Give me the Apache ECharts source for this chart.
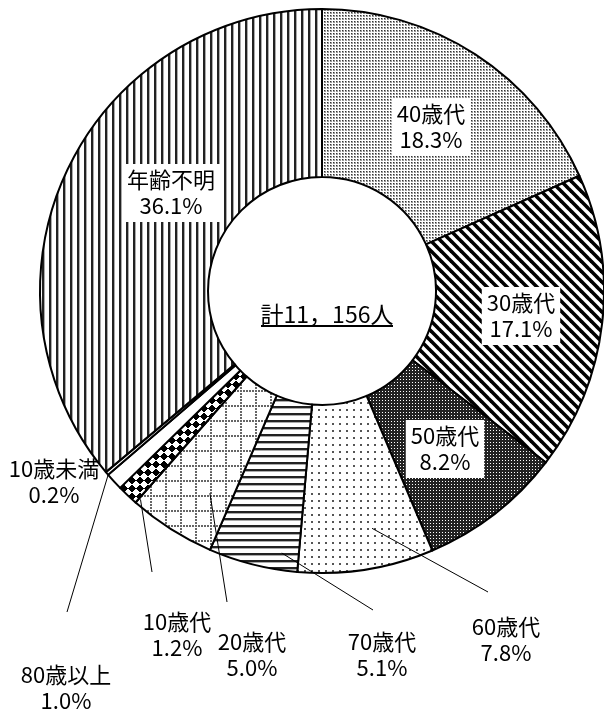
<!DOCTYPE html>
<html>
<head>
<meta charset="utf-8">
<script src="https://cdn.jsdelivr.net/npm/echarts@6/dist/echarts.min.js"></script>
<style>
  html, body { margin: 0; background: #fff; }
  #chart { width: 604px; height: 711px; }
</style>
</head>
<body>
<div id="chart"></div>
<script>
// 年代別の割合（時計回り、12時から）
const categories = ['40歳代', '30歳代', '50歳代', '60歳代', '70歳代', '20歳代', '10歳代', '80歳以上', '10歳未満', '年齢不明'];
const shares = [18.3, 17.1, 8.2, 7.8, 5.1, 5.0, 1.2, 1.0, 0.2, 36.1];
const totalText = '計11，156人';

const cx = 322, cy = 291, rIn = 114, rOut = 282;
const font = '"Noto Sans CJK JP", "Noto Sans CJK SC", sans-serif';

// hatch patterns (monochrome like the original)
function tile(w, h, draw) {
  const c = document.createElement('canvas');
  c.width = w; c.height = h;
  const ctx = c.getContext('2d');
  ctx.fillStyle = '#fff';
  ctx.fillRect(0, 0, w, h);
  draw(ctx, w, h);
  return { image: c, repeat: 'repeat' };
}
const patterns = {
  '40歳代': tile(3, 3, ctx => {
    ctx.fillStyle = '#999'; ctx.fillRect(0, 0, 2, 2);
    ctx.fillStyle = '#333'; ctx.fillRect(0, 0, 1, 1);
  }),
  '30歳代': tile(10, 10, ctx => {
    ctx.strokeStyle = '#000'; ctx.lineWidth = 3.6;
    [-10, 0, 10].forEach(o => {
      ctx.beginPath(); ctx.moveTo(o - 2, -2); ctx.lineTo(o + 12, 12); ctx.stroke();
    });
  }),
  '50歳代': tile(3, 3, ctx => {
    ctx.fillStyle = '#222'; ctx.fillRect(0, 0, 3, 3);
    ctx.fillStyle = '#fff'; ctx.fillRect(1, 1, 1, 1);
  }),
  '60歳代': tile(7, 7, ctx => {
    ctx.fillStyle = '#555'; ctx.fillRect(3, 3, 2, 2);
  }),
  '70歳代': tile(7, 7, ctx => {
    ctx.fillStyle = '#222'; ctx.fillRect(0, 0, 7, 2);
    ctx.fillStyle = '#aaa'; ctx.fillRect(0, 2, 7, 1);
  }),
  '20歳代': tile(15, 15, ctx => {
    ctx.fillStyle = '#666';
    for (let i = 0; i < 15; i += 3) { ctx.fillRect(i, 0, 2, 2); ctx.fillRect(0, i, 2, 2); }
  }),
  '10歳代': tile(8, 8, ctx => {
    ctx.fillStyle = '#000';
    for (let x = 0; x < 8; x++) for (let y = 0; y < 8; y++) {
      if ((Math.floor((x + y) / 8) + Math.floor((x - y + 16) / 8)) % 2 === 0) ctx.fillRect(x, y, 1, 1);
    }
  }),
  '80歳以上': '#fff',
  '10歳未満': '#fff',
  '年齢不明': tile(7, 7, ctx => {
    ctx.fillStyle = '#222'; ctx.fillRect(0, 0, 2, 7);
    ctx.fillStyle = '#aaa'; ctx.fillRect(2, 0, 1, 7);
  })
};

// label layout (centre of each label, in px)
const insideLabels = ['40歳代', '30歳代', '50歳代', '年齢不明'];
const labelPos = {
  '40歳代': [431, 127], '30歳代': [521, 316], '50歳代': [445, 449], '年齢不明': [171, 193],
  '60歳代': [506, 640], '70歳代': [382, 655], '20歳代': [252, 655], '10歳代': [177, 635],
  '80歳以上': [66, 688], '10歳未満': [54, 482]
};
// leader line: start = [radius fraction, angle offset in deg] from slice middle, end in px
const leaderStart = {
  '60歳代': [0.86, -2.9], '70歳代': [0.94, -5.5], '20歳代': [0.82, -3.4],
  '10歳代': [0.98, -2.5], '80歳以上': [1.0, 1.8]
};
const leaderEnd = {
  '60歳代': [488, 592], '70歳代': [373, 610], '20歳代': [227, 602],
  '10歳代': [152, 572], '80歳以上': [67, 612]
};

function midAngle(idx) {
  let a = 0;
  for (let i = 0; i < idx; i++) a += shares[i] * 3.6;
  return a + shares[idx] * 1.8;
}

// leader lines drawn over the hatched slices
const leaderLines = Object.keys(leaderStart).map(name => {
  const ls = leaderStart[name];
  const a = (midAngle(categories.indexOf(name)) + ls[1]) * Math.PI / 180;
  const r = rOut * ls[0];
  const end = leaderEnd[name];
  return {
    type: 'line',
    z: 100,
    silent: true,
    shape: { x1: cx + r * Math.sin(a), y1: cy - r * Math.cos(a), x2: end[0], y2: end[1] },
    style: { stroke: '#000', lineWidth: 1 }
  };
});

const seriesData = categories.map((name, i) => {
  const inside = insideLabels.indexOf(name) >= 0;
  return {
    name: name,
    value: shares[i],
    itemStyle: { color: patterns[name] },
    label: inside
      ? { position: 'inside', backgroundColor: '#fff', padding: [3, 5] }
      : { position: 'outside' },
    labelLine: { show: false }
  };
});

const chart = echarts.init(document.getElementById('chart'), null, { renderer: 'canvas' });
chart.setOption({
  animation: false,
  backgroundColor: '#fff',
  series: [{
    type: 'pie',
    center: [cx, cy],
    radius: [rIn, rOut],
    startAngle: 90,
    clockwise: true,
    avoidLabelOverlap: false,
    emphasis: { disabled: true },
    itemStyle: { borderColor: '#000', borderWidth: 2 },
    label: {
      color: '#000',
      fontFamily: font,
      fontSize: 22,
      lineHeight: 26,
      formatter: p => p.name + '\n' + p.value.toFixed(1) + '%'
    },
    labelLayout: function (params) {
      const pos = labelPos[categories[params.dataIndex]];
      return { x: pos[0], y: pos[1], align: 'center', verticalAlign: 'middle' };
    },
    data: seriesData
  }],
  graphic: leaderLines.concat([{
    type: 'group',
    x: cx + 5,
    y: cy + 23,
    children: [{
      type: 'text',
      style: {
        text: totalText, x: 0, y: 0, align: 'center', verticalAlign: 'middle',
        fontFamily: font, fontSize: 23, fill: '#000'
      }
    }, {
      type: 'line',
      shape: { x1: -66, y1: 12, x2: 66, y2: 12 },
      style: { stroke: '#000', lineWidth: 2 }
    }]
  }])
});
</script>
</body>
</html>
